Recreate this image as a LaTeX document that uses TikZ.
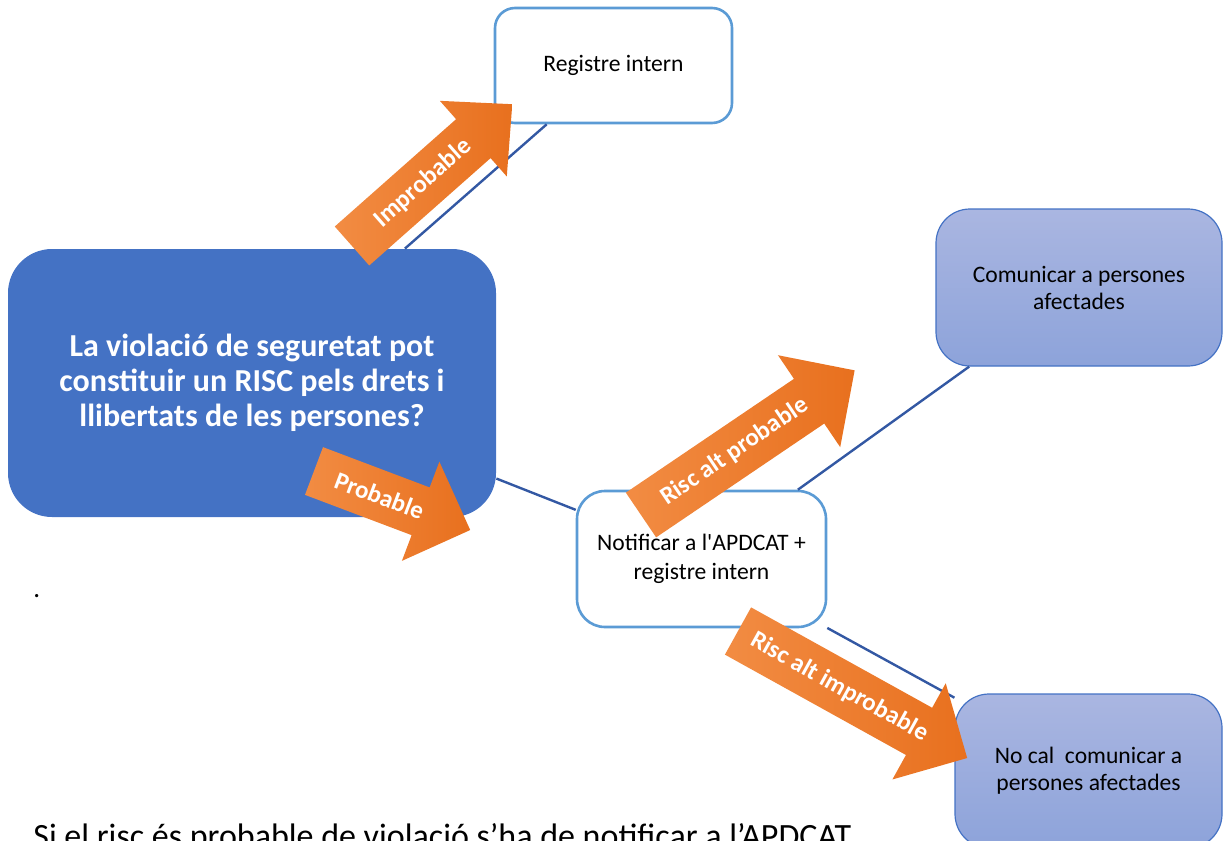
\documentclass[tikz,border=0pt]{standalone}
\usepackage{fontspec}
\setmainfont{Carlito}
\definecolor{mainblue}{HTML}{4472C4}
\definecolor{edgeblue}{HTML}{5B9BD5}
\definecolor{lineblue}{HTML}{3358A3}
\definecolor{lightA}{HTML}{AAB6E1}
\definecolor{lightB}{HTML}{8DA3DA}
\definecolor{orA}{HTML}{F28C43}
\definecolor{orB}{HTML}{E8701E}
% #1 tail point, #2 angle, #3 length, #4 half shaft, #5 half head, #6 head length, #7 label pos, #8 name, #9 text
\newcommand\blockarrow[9]{%
\begin{scope}[shift={#1}, rotate=#2]
\shade[left color=orA, right color=orB]
  (0,-#4) -- ({#3-#6},-#4) -- ({#3-#6},-#5) -- (#3,0) -- ({#3-#6},#5) -- ({#3-#6},#4) -- (0,#4) -- cycle;
\node[lbl, transform shape] (#8) at (#7,0) {#9};
\end{scope}}
\begin{document}
\begin{tikzpicture}[x=0.5pt,y=-0.5pt,
  conn/.style={draw=lineblue, line width=1.2pt},
  whitebox/.style={draw=edgeblue, line width=1.3pt, fill=white, rounded corners=#1,
    align=center, inner sep=0pt, font=\fontsize{11.8}{14.5}\selectfont},
  lightbox/.style={draw=mainblue, line width=0.6pt, top color=lightA, bottom color=lightB,
    rounded corners=17pt, align=center, inner sep=0pt, font=\fontsize{11.8}{13.5}\selectfont},
  mainbox/.style={fill=mainblue, rounded corners=22pt, align=center, inner sep=0pt,
    text=white, font=\bfseries\fontsize{16}{17.5}\selectfont},
  lbl/.style={text=white, inner sep=0pt, font=\bfseries\fontsize{12.5}{13}\selectfont},
  plain/.style={anchor=base west, inner sep=0pt, font=\fontsize{17}{20}\selectfont}
]
\useasboundingbox (0,0) rectangle (1224,840);
\clip (0,0) rectangle (1224,840);

% boxes
\node[mainbox, minimum width=244pt, minimum height=134pt] (main) at (252,383)
  {La violació de seguretat pot\\constituir un RISC pels drets i\\llibertats de les persones?};
\node[whitebox=10pt, minimum width=118.5pt, minimum height=57.5pt] (reg) at (613.5,65.5)
  {Registre intern};
\node[whitebox=14pt, minimum width=124.5pt, minimum height=68pt] (notif) at (701.5,559)
  {Notificar a l\textquotesingle APDCAT +\\registre intern};
\node[lightbox, minimum width=143pt, minimum height=78.5pt] (comm) at (1079,287.5)
  {Comunicar a persones\\afectades};
\node[lightbox, minimum width=133.5pt, minimum height=77pt] (nocal) at (1088.5,771)
  {No cal\ \ comunicar a\\persones afectades};

% connectors
\draw[conn] (main) -- (reg);
\draw[conn] (main) -- (notif);
\draw[conn] (notif) -- (comm);
\draw[conn] (notif) -- (nocal);

% orange block arrows
\blockarrow{(352,246)}{41.5}{214}{26}{50.5}{52}{95}{l1}{Improbable}
\blockarrow{(314,471)}{-20.7}{167}{25.5}{53}{53}{70}{l2}{Probable}
\blockarrow{(641,515)}{34.1}{258}{27}{55.5}{55}{113}{l3}{Risc alt probable}
\blockarrow{(738,631)}{-29}{262}{27}{55}{55}{116}{l4}{Risc alt improbable}

% loose text
\node[plain, font=\fontsize{13.5}{16}\selectfont] (dot) at (33,597) {.};
\node[plain] (note) at (33,847) {Si el risc és probable de violació s’ha de notificar a l’APDCAT};
\end{tikzpicture}
\end{document}
